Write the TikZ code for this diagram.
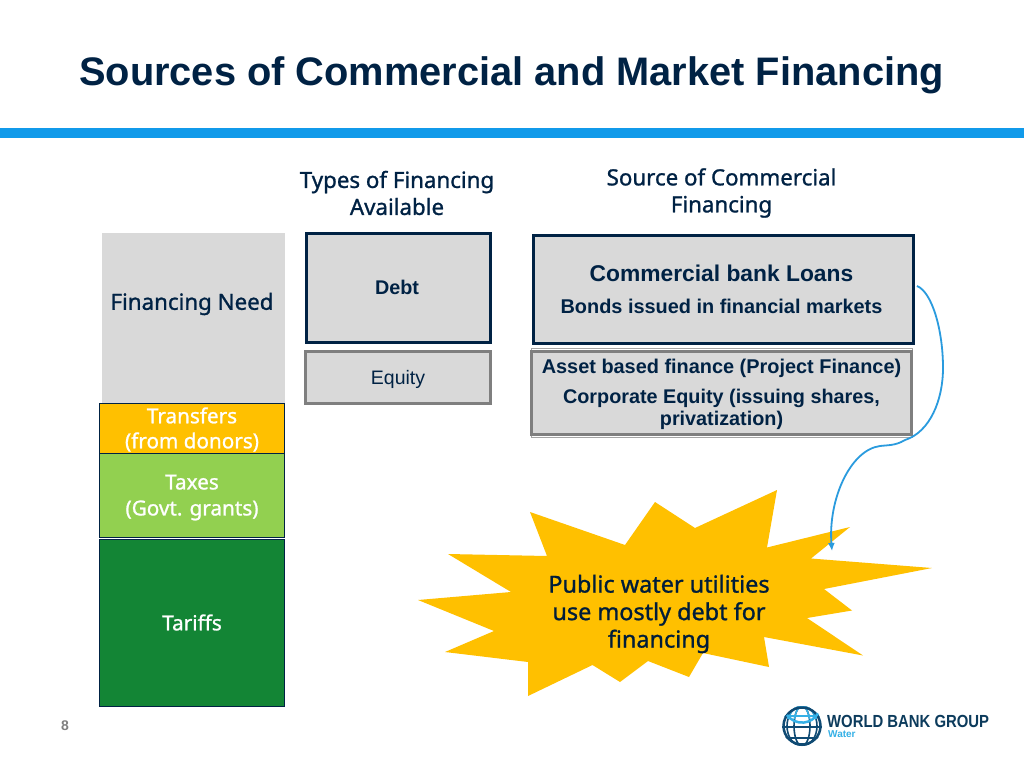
\documentclass[tikz,border=0pt]{standalone}
\usepackage{fontspec}
\usepackage{xcolor}
\usetikzlibrary{arrows.meta}
\setmainfont{Liberation Sans}
\newfontfamily\tahomafont[AutoFakeBold=1.1]{Noto Sans}
\definecolor{navytext}{HTML}{002244}
\definecolor{barblue}{HTML}{119AEA}
\definecolor{boxgray}{HTML}{D9D9D9}
\definecolor{edgegray}{HTML}{7F7F7F}
\definecolor{amberfill}{HTML}{FFC000}
\definecolor{limefill}{HTML}{92D050}
\definecolor{forestfill}{HTML}{138535}
\definecolor{curveblue}{HTML}{2A9BDE}
\definecolor{globedark}{HTML}{0F4A73}
\definecolor{globelight}{HTML}{35B0E6}
\tikzset{
    headtext/.style={font=\tahomafont\bfseries\fontsize{22.3}{27}\selectfont, text=navytext, align=center},
    stackbox/.style={draw=navytext, line width=0.8pt, inner sep=0pt, text=white, align=center,
        font=\tahomafont\bfseries\fontsize{20.7}{26}\selectfont},
    strongbox/.style={draw=navytext, line width=3pt, fill=boxgray, inner sep=0pt},
    softbox/.style={draw=edgegray, line width=3pt, fill=boxgray, inner sep=0pt},
    sanstext/.style={text=navytext, align=center, inner sep=0pt, font=\bfseries\fontsize{19.9}{22}\selectfont}
}
\begin{document}
\begin{tikzpicture}[x=1pt, y=-1pt]
    \useasboundingbox (0,0) rectangle (1024,768);
    \fill [white] (0,0) rectangle (1024,768);

    \node [text=navytext, font=\bfseries\fontsize{39.8}{44}\selectfont, anchor=west, inner sep=0pt] (title) at (79,75.5) {Sources of Commercial and Market Financing};
    \fill [barblue] (0,128) rectangle (1024,138);

    \node [headtext] (typeshead) at (397,193) {Types of Financing\\Available};
    \node [headtext] (sourcehead) at (721.5,193) {Source of Commercial\\Financing};

    \node [fill=boxgray, minimum width=183pt, minimum height=170pt, inner sep=0pt] (needbox) at (193.5,318) {};
    \node [text=navytext, font=\tahomafont\bfseries\fontsize{22.3}{25}\selectfont] (needtext) at (192,304) {Financing Need};
    \node [stackbox, fill=amberfill, minimum width=185.5pt, minimum height=50pt] (transfers) at (192,428) {};
    \node [text=white, align=center, font=\tahomafont\bfseries\fontsize{20.7}{25}\selectfont] (transferstext) at (192,429.5) {Transfers\\(from donors)};
    \node [stackbox, fill=limefill, minimum width=185.5pt, minimum height=84pt] (taxes) at (192,495) {};
    \node [text=white, align=center, font=\tahomafont\bfseries\fontsize{20.7}{26}\selectfont] (taxestext) at (192,497.5) {Taxes\\(Govt. grants)};
    \node [stackbox, fill=forestfill, minimum width=185.5pt, minimum height=167pt] (tariffs) at (192,622.5) {Tariffs};

    \node [strongbox, minimum width=184pt, minimum height=109pt] (debt) at (398.5,288) {};
    \node [text=navytext, font=\bfseries\fontsize{19.8}{22}\selectfont] (debttext) at (397,287.5) {Debt};
    \node [softbox, minimum width=185pt, minimum height=52pt] (equity) at (398,377.5) {};
    \node [text=navytext, font=\fontsize{19.5}{22}\selectfont] (equitytext) at (398,379.5) {Equity};

    \node [strongbox, minimum width=380pt, minimum height=108pt] (commercial) at (723.5,289.5) {};
    \node [sanstext, font=\bfseries\fontsize{22.8}{25}\selectfont] (loans) at (721.5,273.5) {Commercial bank Loans};
    \node [sanstext] (bonds) at (721.5,306) {Bonds issued in financial markets};

    \draw [edgegray!70, line width=0.6pt] (531,348) rectangle (912,437);
    \node [softbox, minimum width=380pt, minimum height=83pt] (assetbox) at (721.5,393) {};
    \node [sanstext] (asset) at (721.5,368.5) {Asset based finance (Project Finance)};
    \node [sanstext, font=\bfseries\fontsize{19.8}{21.5}\selectfont] (corporate) at (721.5,409.5) {Corporate Equity (issuing shares,\\privatization)};

    \fill [amberfill] (530,512) -- (547,556) -- (448,554) -- (511,592) -- (418,600) -- (494,631)
        -- (445,652) -- (528,662) -- (528,696) -- (592.5,665) -- (620,682) -- (648,661) -- (689,677)
        -- (703,653) -- (769,667) -- (764,637) -- (863,655.5) -- (807,618) -- (852,610.5) -- (824,589)
        -- (932,568) -- (811,558.5) -- (850,527) -- (767,547.5) -- (777,490) -- (695,528) -- (655,502)
        -- (625,545) -- cycle;
    \node [text=navytext!85!black, align=center, font=\tahomafont\bfseries\fontsize{23.4}{27.5}\selectfont] (utilities) at (659,614) {Public water utilities\\use mostly debt for\\financing};

    \coordinate (curvestart) at (917,286);
    \coordinate (curveend) at (832,551);
    \draw [curveblue, line width=1.8pt, >={Latex[length=8pt,width=7pt]}, ->] (curvestart) .. controls (932,292) and (943,330) .. (943,368)
        .. controls (943,400) and (930,432) .. (905,440)
        .. controls (895,446) and (887,445) .. (880,446)
        .. controls (850,450) and (828,500) .. (curveend);

    \node [text=edgegray, font=\bfseries\fontsize{14}{16}\selectfont] (pagenum) at (65,726) {8};

    \begin{scope}
        \clip (802,726) circle (20);
        \foreach \i in {8,15} {
            \draw [globedark, line width=1.6pt] (802,726) ellipse ({\i} and 20);
        }
        \foreach \i in {716,727,738} {
            \draw [globedark, line width=1.6pt] (780,\i) -- (824,\i);
        }
        \begin{scope}
            \clip (782,706) rectangle (822,718);
            \foreach \i in {8,15} {
                \draw [globelight, line width=1.6pt] (802,726) ellipse ({\i} and 20);
            }
            \draw [globelight, line width=1.6pt] (780,716) -- (824,716);
        \end{scope}
    \end{scope}
    \draw [globedark, line width=2.5pt] (802,726) circle (18.5);
    \draw [globelight, line width=2.5pt] (787,715) arc (144:30:18.5);

    \node [text=globedark!80!black, anchor=west, inner sep=0pt, xscale=0.85, font=\bfseries\fontsize{17.5}{20}\selectfont] (wbgname) at (827,721) {WORLD BANK GROUP};
    \node [text=globelight, anchor=west, inner sep=0pt, font=\bfseries\fontsize{10}{11}\selectfont] (wbgunit) at (828,734) {Water};
\end{tikzpicture}
\end{document}
